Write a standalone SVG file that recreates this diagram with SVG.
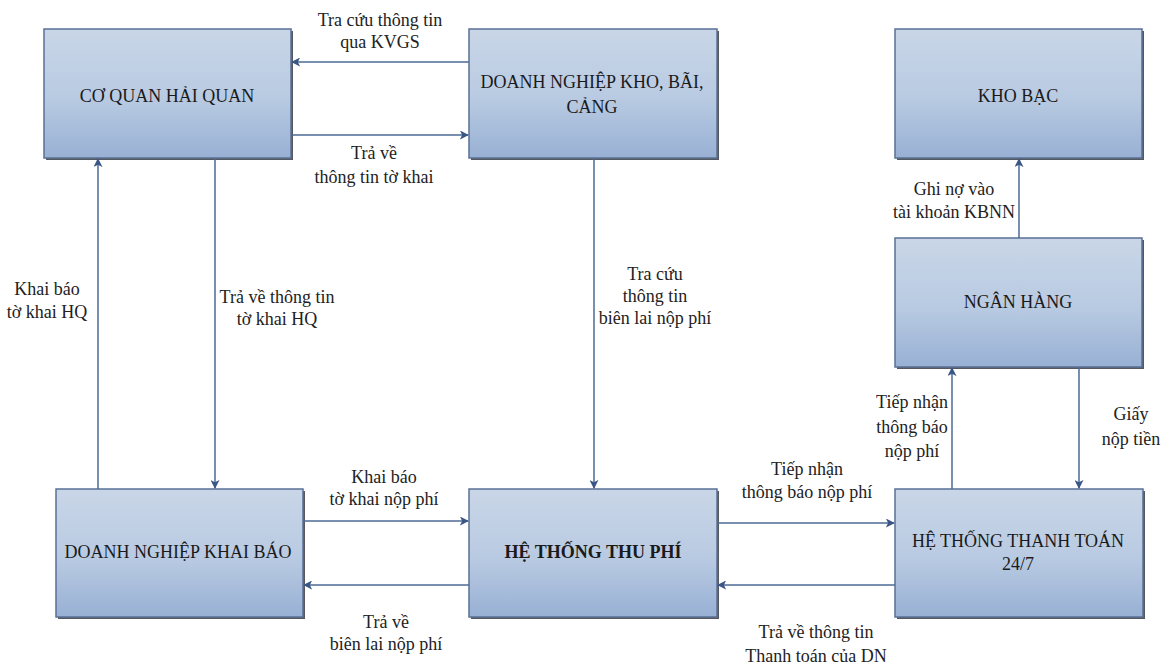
<svg xmlns="http://www.w3.org/2000/svg" width="1171" height="667" viewBox="0 0 1171 667">
<defs>
<linearGradient id="g" x1="0" y1="0" x2="0" y2="1">
<stop offset="0" stop-color="#c9d6e7"/>
<stop offset="0.55" stop-color="#b8cae2"/>
<stop offset="1" stop-color="#98b0d4"/>
</linearGradient>
<marker id="ah" viewBox="0 0 10 10" refX="9" refY="5" markerWidth="9" markerHeight="9" markerUnits="userSpaceOnUse" orient="auto">
<path d="M0,0 L10,5 L0,10 L2.5,5 Z" fill="#3a5685"/>
</marker>
</defs>
<style>
.box{fill:url(#g);stroke:#5a7096;stroke-width:1.5}
.sh{fill:#55595f}
.bt{font-family:"Liberation Serif",serif;font-size:18px;fill:#1a1a1a;text-anchor:middle}
.lb{font-family:"Liberation Serif",serif;font-size:18px;fill:#222;text-anchor:middle}
.c{stroke:#4d6a96;stroke-width:1.5;fill:none;marker-end:url(#ah)}
</style>
<rect width="1171" height="667" fill="#fff"/>

<g id="co-quan-hai-quan">
<rect class="sh" x="46" y="31" width="247" height="129"/>
<rect class="box" x="44" y="29" width="247" height="129"/>
<text class="bt" x="167" y="102">CƠ QUAN HẢI QUAN</text>
</g>
<g id="dn-kho-bai-cang">
<rect class="sh" x="471" y="31" width="248" height="129"/>
<rect class="box" x="469" y="29" width="248" height="129"/>
<text class="bt" x="592" y="88">DOANH NGHIỆP KHO, BÃI,</text>
<text class="bt" x="592" y="113">CẢNG</text>
</g>
<g id="kho-bac">
<rect class="sh" x="897" y="31" width="247" height="129"/>
<rect class="box" x="895" y="29" width="247" height="129"/>
<text class="bt" x="1018" y="102">KHO BẠC</text>
</g>
<g id="ngan-hang">
<rect class="sh" x="897" y="240" width="247" height="129"/>
<rect class="box" x="895" y="238" width="247" height="129"/>
<text class="bt" x="1018" y="308">NGÂN HÀNG</text>
</g>
<g id="dn-khai-bao">
<rect class="sh" x="58" y="491" width="247" height="128"/>
<rect class="box" x="56" y="489" width="247" height="128"/>
<text class="bt" x="178" y="558">DOANH NGHIỆP KHAI BÁO</text>
</g>
<g id="he-thong-thu-phi">
<rect class="sh" x="471" y="491" width="248" height="128"/>
<rect class="box" x="469" y="489" width="248" height="128"/>
<text class="bt" x="593" y="558" font-weight="bold">HỆ THỐNG THU PHÍ</text>
</g>
<g id="he-thong-thanh-toan">
<rect class="sh" x="897" y="491" width="248" height="128"/>
<rect class="box" x="895" y="489" width="248" height="128"/>
<text class="bt" x="1018" y="547">HỆ THỐNG THANH TOÁN</text>
<text class="bt" x="1018" y="570">24/7</text>
</g>

<g id="connectors">
<path class="c" d="M469,62 H292"/>
<path class="c" d="M291,135 H468"/>
<path class="c" d="M98,489 V159"/>
<path class="c" d="M215,158 V488"/>
<path class="c" d="M594,158 V488"/>
<path class="c" d="M303,521 H468"/>
<path class="c" d="M469,585 H304"/>
<path class="c" d="M717,523 H894"/>
<path class="c" d="M895,585 H718"/>
<path class="c" d="M952,489 V368"/>
<path class="c" d="M1079,367 V488"/>
<path class="c" d="M1019,238 V159"/>
</g>

<g id="labels">
<text class="lb" x="380" y="26">Tra cứu thông tin</text>
<text class="lb" x="380" y="48">qua KVGS</text>
<text class="lb" x="374" y="159">Trả về</text>
<text class="lb" x="374" y="183">thông tin tờ khai</text>
<text class="lb" x="47" y="295">Khai báo</text>
<text class="lb" x="47" y="318">tờ khai HQ</text>
<text class="lb" x="277" y="303">Trả về thông tin</text>
<text class="lb" x="277" y="325">tờ khai HQ</text>
<text class="lb" x="655" y="280">Tra cứu</text>
<text class="lb" x="655" y="302">thông tin</text>
<text class="lb" x="655" y="324">biên lai nộp phí</text>
<text class="lb" x="384" y="483">Khai báo</text>
<text class="lb" x="384" y="505">tờ khai nộp phí</text>
<text class="lb" x="386" y="628">Trả về</text>
<text class="lb" x="386" y="650">biên lai nộp phí</text>
<text class="lb" x="807" y="475">Tiếp nhận</text>
<text class="lb" x="807" y="498">thông báo nộp phí</text>
<text class="lb" x="816" y="638">Trả về thông tin</text>
<text class="lb" x="816" y="662">Thanh toán của DN</text>
<text class="lb" x="912" y="408">Tiếp nhận</text>
<text class="lb" x="912" y="433">thông báo</text>
<text class="lb" x="912" y="457">nộp phí</text>
<text class="lb" x="1131" y="420">Giấy</text>
<text class="lb" x="1131" y="445">nộp tiền</text>
<text class="lb" x="954" y="195">Ghi nợ vào</text>
<text class="lb" x="954" y="218">tài khoản KBNN</text>
</g>
</svg>
